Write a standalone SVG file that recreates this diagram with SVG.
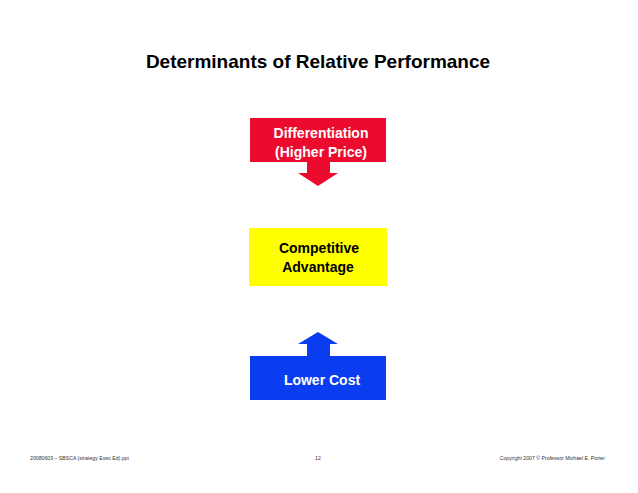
<svg xmlns="http://www.w3.org/2000/svg" width="638" height="493" viewBox="0 0 638 493">
<style>
text{font-family:"Liberation Sans",Arial,sans-serif}
.t{font-weight:bold;font-size:14px;text-anchor:middle}
.w{fill:#fff}
.k{fill:#000}
.f{font-size:5.2px;fill:#333}
</style>
<rect width="638" height="493" fill="#fff"/>
<text x="318" y="68" text-anchor="middle" font-weight="bold" font-size="19" fill="#000">Determinants of Relative Performance</text>
<g id="differentiation">
<rect x="250" y="118" width="136" height="44" fill="#EC0A2E"/>
<polygon points="307,161 330,161 330,173 338,173 318,186 298,173 307,173" fill="#EC0A2E"/>
<text class="t w" x="321" y="138">Differentiation</text>
<text class="t w" x="321" y="157">(Higher Price)</text>
</g>
<g id="competitive">
<rect x="249" y="228" width="138" height="58" fill="#FFFF00"/>
<text class="t k" x="319" y="253">Competitive</text>
<text class="t k" x="318" y="272">Advantage</text>
</g>
<g id="lowercost">
<rect x="250" y="356" width="136" height="44" fill="#0A3CF0"/>
<polygon points="307,357 330,357 330,344 338,344 318,332 298,344 307,344" fill="#0A3CF0"/>
<text class="t w" x="322" y="385">Lower Cost</text>
</g>
<g id="connectors"></g>
<text class="f" x="30" y="460">20080603 – SBSCA (strategy Exec Ed).ppt</text>
<text class="f" x="318" y="460" text-anchor="middle">12</text>
<text class="f" x="605" y="460" text-anchor="end">Copyright 2007 © Professor Michael E. Porter</text>
</svg>
